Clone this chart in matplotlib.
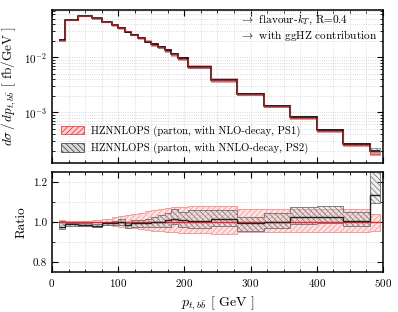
import numpy as np
import matplotlib
matplotlib.use('Agg')
import matplotlib.pyplot as plt
from matplotlib.patches import Patch
from matplotlib.ticker import MultipleLocator, LogLocator, NullFormatter

plt.rcParams['font.family'] = ['cmr10']
plt.rcParams['mathtext.fontset'] = 'cm'
plt.rcParams['axes.formatter.use_mathtext'] = True
plt.rcParams['hatch.linewidth'] = 0.5

# bin edges in GeV
edges = [10, 20, 40, 60, 75, 90, 100, 110, 120, 130, 140, 150, 160, 170, 180,
         190, 205, 240, 280, 320, 360, 400, 440, 480, 495]

# PS1 (NLO-decay) differential cross section, fb/GeV
ps1 = [0.0208, 0.0478, 0.0566, 0.0515, 0.0436, 0.0383, 0.0337, 0.0293, 0.0258,
       0.0224, 0.0193, 0.0170, 0.0153, 0.0131, 0.0112, 0.0094, 0.0066, 0.00382,
       0.00214, 0.00129, 0.000785, 0.000465, 0.000258, 0.000172]

# PS1 scale band (relative)
ps1_up = [0.010, 0.006, 0.008, 0.012, 0.018, 0.024, 0.030, 0.036, 0.042, 0.048,
          0.054, 0.060, 0.065, 0.070, 0.074, 0.078, 0.080, 0.082, 0.065, 0.065,
          0.065, 0.065, 0.065, 0.042]
ps1_dn = [0.012, 0.006, 0.008, 0.010, 0.014, 0.018, 0.022, 0.026, 0.030, 0.034,
          0.038, 0.042, 0.045, 0.048, 0.050, 0.052, 0.055, 0.056, 0.046, 0.046,
          0.046, 0.046, 0.046, 0.042]

# PS2 / PS1 ratio and PS2 band (in ratio units)
ratio = [0.978, 0.990, 0.988, 0.982, 0.995, 0.997, 1.000, 0.987, 0.995, 0.997,
         0.998, 1.003, 1.003, 1.012, 1.015, 1.012, 1.008, 1.015, 0.995, 1.003,
         1.028, 1.028, 1.008, 1.137]
ratio_hi = [1.008, 0.997, 0.995, 0.990, 1.003, 1.005, 1.015, 0.995, 1.012, 1.012,
            1.015, 1.028, 1.035, 1.045, 1.066, 1.053, 1.060, 1.060, 1.028, 1.045,
            1.078, 1.083, 1.053, 1.30]
ratio_lo = [0.965, 0.983, 0.980, 0.975, 0.985, 0.988, 0.987, 0.970, 0.975, 0.977,
            0.977, 0.975, 0.975, 0.978, 0.990, 0.975, 0.970, 0.984, 0.958, 0.970,
            0.990, 0.995, 0.980, 1.095]

edges = np.array(edges)
ps1 = np.array(ps1)
ratio = np.array(ratio)
ps2 = ps1 * ratio
red_hi = 1 + np.array(ps1_up)
red_lo = 1 - np.array(ps1_dn)

RED = '#e8262b'
PINK = '#f39090'
GREY = '#6e6e6e'

fig = plt.figure(figsize=(3.98, 3.12), dpi=100)
ax = fig.add_axes([0.1307, 0.4776, 0.8313, 0.4904])
axr = fig.add_axes([0.1307, 0.128, 0.8313, 0.321])

# upper panel
ax.stairs(ps1 * red_hi, edges, baseline=ps1 * red_lo, fill=True,
          facecolor=(1, 0.72, 0.72, 0.4), edgecolor=PINK, hatch='//////', linewidth=0.6)
ax.stairs(ps1 * np.array(ratio_hi), edges, baseline=ps1 * np.array(ratio_lo), fill=True,
          facecolor=(0.8, 0.8, 0.8, 0.3), edgecolor=GREY, hatch='\\\\\\\\\\\\', linewidth=0.5)
ax.stairs(ps2, edges, baseline=None, color='black', linewidth=1.1)
ax.stairs(ps1, edges, baseline=None, color=RED, linewidth=0.9, alpha=0.7)
ax.set_yscale('log')
ax.set_xlim(0, 500)
ax.set_ylim(1.2e-4, 0.072)
ax.set_ylabel(r'$d\sigma\,/\,dp_{t,b\bar{b}}$ [ fb/GeV ]', fontsize=9.5)
ax.tick_params(labelbottom=False)
ax.yaxis.set_minor_locator(LogLocator(base=10, subs=np.arange(2, 10)))
ax.yaxis.set_minor_formatter(NullFormatter())

ax.text(0.568, 0.935, r'$\rightarrow$ flavour-$k_T$, R=0.4', transform=ax.transAxes,
        ha='left', va='center', fontsize=8.1)
ax.text(0.568, 0.835, r'$\rightarrow$ with ggHZ contribution', transform=ax.transAxes,
        ha='left', va='center', fontsize=8.1)

handles = [Patch(facecolor=(1, 0.8, 0.8), edgecolor=RED, hatch='//////', linewidth=0.5),
           Patch(facecolor=(0.85, 0.85, 0.85), edgecolor='#333333', hatch='\\\\\\\\\\\\', linewidth=0.5)]
ax.legend(handles, ['HZNNLOPS (parton, with NLO-decay, PS1)',
                    'HZNNLOPS (parton, with NNLO-decay, PS2)'],
          loc='lower left', frameon=False, fontsize=7.7, handlelength=2.2,
          handleheight=0.8, borderaxespad=0.4, labelspacing=0.55, handletextpad=0.6)

# ratio panel
axr.stairs(red_hi, edges, baseline=red_lo, fill=True,
           facecolor=(1, 0.72, 0.72, 0.4), edgecolor=PINK, hatch='//////', linewidth=0.6)
axr.stairs(ratio_hi, edges, baseline=ratio_lo, fill=True,
           facecolor=(0.8, 0.8, 0.8, 0.3), edgecolor=GREY, hatch='\\\\\\\\\\\\', linewidth=0.6)
axr.stairs(np.ones(len(ps1)), edges, baseline=None, color=RED, linewidth=1.0)
axr.stairs(ratio, edges, baseline=None, color='#222222', linewidth=1.0)
axr.set_xlim(0, 500)
axr.set_ylim(0.752, 1.251)
axr.set_ylabel('Ratio', fontsize=9.5)
axr.set_xlabel(r'$p_{t,b\bar{b}}$ [ GeV ]', fontsize=10)
axr.yaxis.set_major_locator(MultipleLocator(0.2))
axr.yaxis.set_minor_locator(MultipleLocator(0.1))
axr.yaxis.set_major_formatter(matplotlib.ticker.FormatStrFormatter('%.1f'))

for a in (ax, axr):
    a.xaxis.set_major_locator(MultipleLocator(100))
    a.xaxis.set_minor_locator(MultipleLocator(25))
    a.tick_params(which='both', direction='in', top=True, right=True, labelsize=8)
    a.tick_params(which='major', length=4, width=0.8)
    a.tick_params(which='minor', length=2, width=0.6)
    a.grid(True, which='both', linestyle=':', color='#d0d0d0', linewidth=0.6)
    a.set_axisbelow(True)
    for s in a.spines.values():
        s.set_linewidth(1.1)

fig.savefig('out.png', dpi=100)
